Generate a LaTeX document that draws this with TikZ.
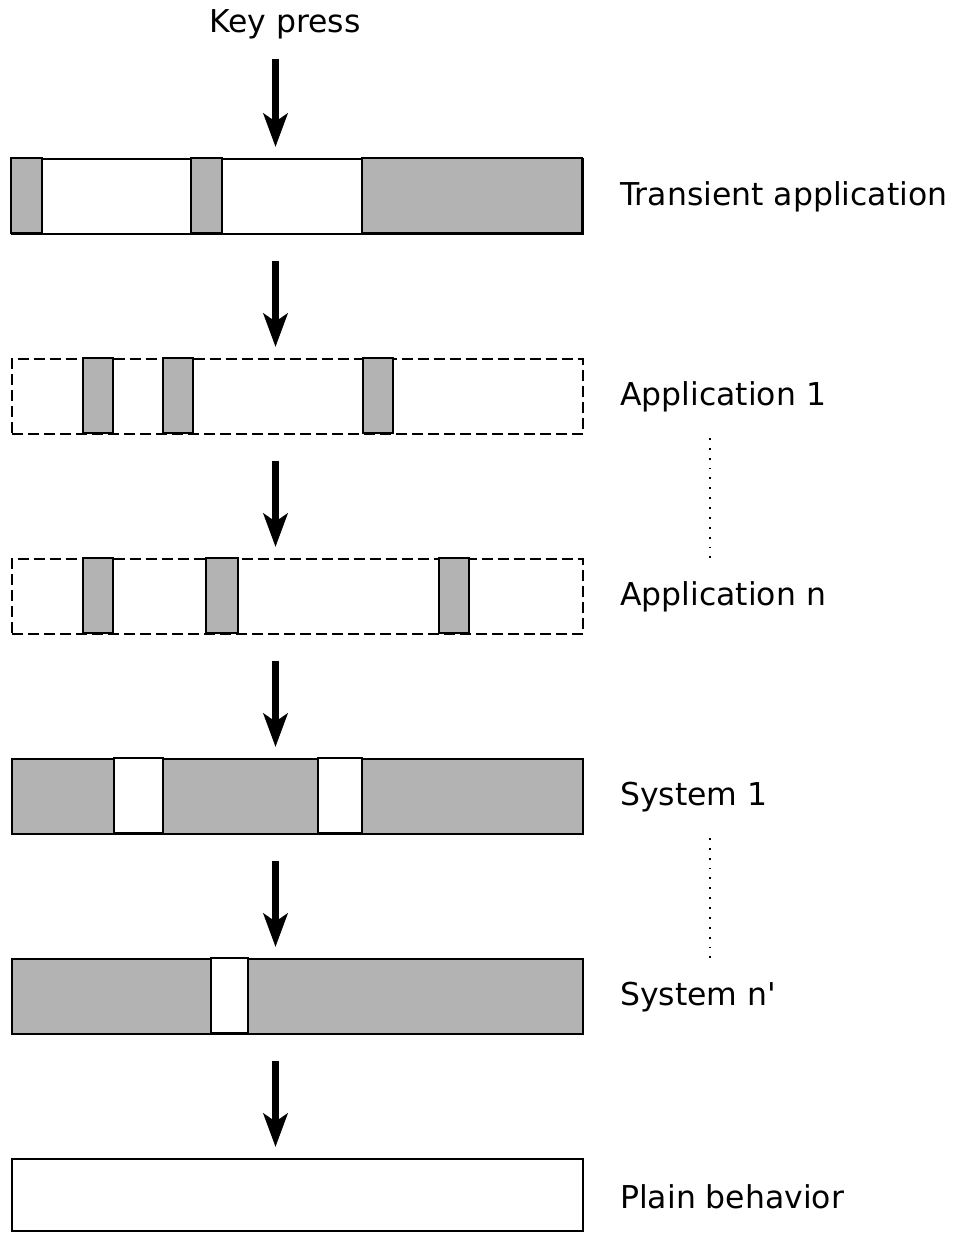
\documentclass[tikz,border=0pt]{standalone}
\usepackage{fontspec}
\setmainfont{DejaVu Sans}[Ligatures=TeXOff]
\usetikzlibrary{arrows.meta,calc}
\definecolor{seggray}{RGB}{179,179,179}
\begin{document}
\begin{tikzpicture}[x=0.75pt,y=-0.75pt,
  rowbox/.style={draw, line width=1.5pt, minimum width=428.25pt, minimum height=56.25pt, inner sep=0pt, anchor=north west},
  dashrow/.style={rowbox, line width=1.3pt, dash pattern=on 8pt off 4pt},
  seg/.style={fill=seggray, draw=black, line width=1.5pt},
  wseg/.style={fill=white, draw=black, line width=1.5pt},
  lbl/.style={anchor=west, inner sep=0pt, font=\fontsize{23.6pt}{28pt}\selectfont},
  arr/.style={line width=5.2pt, -{Stealth[length=25pt, width=18pt, inset=6pt]}},
  dotline/.style={line width=1.4pt, dash pattern=on 1.4pt off 6pt}]
\useasboundingbox (0,0) rectangle (961,1233);

% rows
\node[rowbox] (t) at (11,158) {};
\filldraw[seg] (11,158) rectangle (42,233);
\filldraw[seg] (191,158) rectangle (222,233);
\filldraw[seg] (362,158) rectangle (582,233);

\node[dashrow] (a1) at (11,358) {};
\filldraw[seg] (83,358) rectangle (113,433);
\filldraw[seg] (163,358) rectangle (193,433);
\filldraw[seg] (363,358) rectangle (393,433);

\node[dashrow] (an) at (11,558) {};
\filldraw[seg] (83,558) rectangle (113,633);
\filldraw[seg] (206,558) rectangle (238,633);
\filldraw[seg] (439,558) rectangle (469,633);

\node[rowbox, fill=seggray] (s1) at (11,758) {};
\filldraw[wseg] (114,758) rectangle (163,833);
\filldraw[wseg] (318,758) rectangle (362,833);

\node[rowbox, fill=seggray] (sn) at (11,958) {};
\filldraw[wseg] (211,958) rectangle (248,1033);

\node[rowbox, minimum height=54pt] (p) at (11,1158) {};

% labels
\node[font=\fontsize{23.6pt}{28pt}\selectfont, inner sep=0pt] (key) at (285,24) {Key press};
\node[lbl] (lt) at (620,197) {Transient application};
\node[lbl] (l1) at (620,397) {Application 1};
\node[lbl] (ln) at (620,597) {Application n};
\node[lbl] (ls1) at (620,797) {System 1};
\node[lbl] (lsn) at (620,997) {System n'};
\node[lbl] (lp) at (620,1197) {Plain behavior};

% arrows
\draw[arr] ($(t.north west)+(264.5,-99)$) -- ($(t.north west)+(264.5,-11)$);
\draw[arr] ($(t.south west)+(264.5,26)$) -- ($(a1.north west)+(264.5,-11)$);
\draw[arr] ($(a1.south west)+(264.5,26)$) -- ($(an.north west)+(264.5,-11)$);
\draw[arr] ($(an.south west)+(264.5,26)$) -- ($(s1.north west)+(264.5,-11)$);
\draw[arr] ($(s1.south west)+(264.5,26)$) -- ($(sn.north west)+(264.5,-11)$);
\draw[arr] ($(sn.south west)+(264.5,26)$) -- ($(p.north west)+(264.5,-11)$);

% dotted
\draw[dotline] ($(l1.west)+(90,41)$) -- ($(ln.west)+(90,-37)$);
\draw[dotline] ($(ls1.west)+(90,41)$) -- ($(lsn.west)+(90,-37)$);
\end{tikzpicture}
\end{document}
